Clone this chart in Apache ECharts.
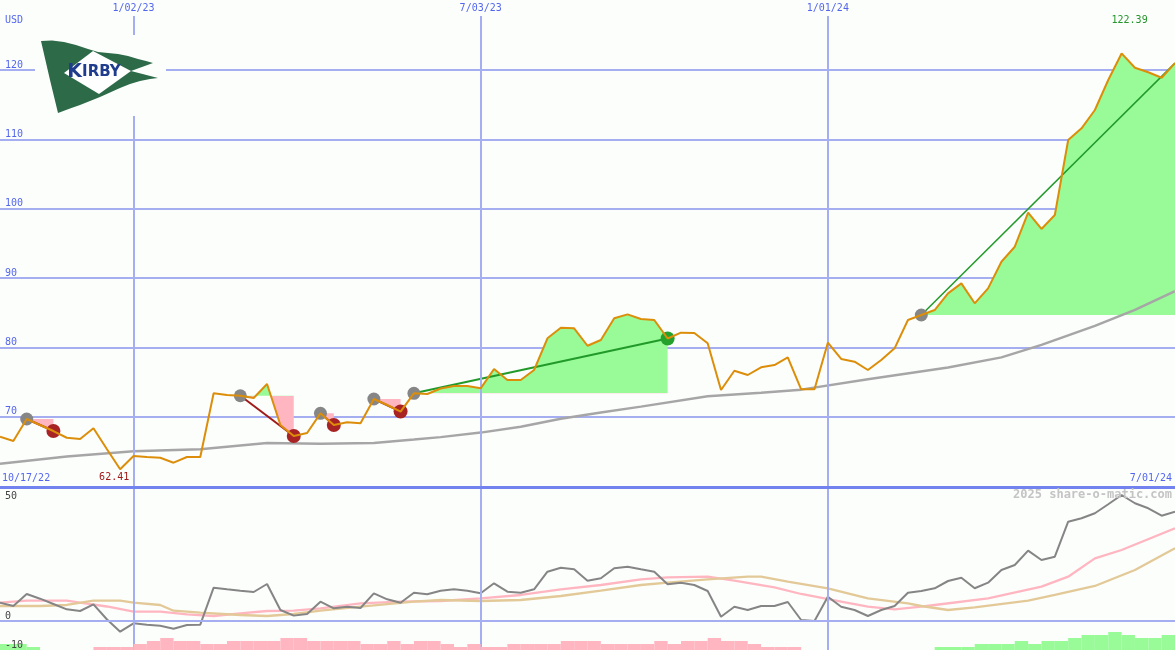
<!DOCTYPE html>
<html><head><meta charset="utf-8">
<script src="https://cdn.jsdelivr.net/npm/echarts@6/dist/echarts.min.js"></script>
<style>html,body{margin:0;padding:0;background:#fcfefc}#c{width:1175px;height:650px}</style>
</head><body><div id="c"></div>
<script>
// ---------- data ----------
const firstWeek = '2022-10-24';      // weekly bars (Mondays)
const weekCount = 89;
const rangeStartLabel = '10/17/22';
const rangeEndLabel = '7/01/24';
const verticalDates = ['2023-01-02', '2023-07-03', '2024-01-01'];
const priceTicks = [70, 80, 90, 100, 110, 120];
const oscTicks = [-10, 0];
const currencyLabel = 'USD';
const oscTopLabel = '50';
const watermark = '2025 share-o-matic.com';

const price = [67.11, 66.49, 69.66, 68.80, 67.93, 66.96, 66.78, 68.32, 65.33, 62.41,
  64.32, 64.18, 64.08, 63.36, 64.18, 64.18, 73.37, 73.12, 73.02, 72.69,
  74.71, 68.80, 67.21, 67.64, 70.48, 68.80, 69.19, 69.05, 72.55, 71.68,
  70.74, 73.37, 73.27, 74.06, 74.42, 74.42, 74.09, 76.87, 75.29, 75.29,
  76.73, 81.30, 82.83, 82.74, 80.23, 81.06, 84.19, 84.76, 84.09, 83.94,
  81.27, 82.11, 82.07, 80.58, 73.84, 76.63, 76.01, 77.12, 77.45, 78.56,
  73.95, 73.95, 80.67, 78.32, 77.93, 76.73, 78.17, 79.86, 83.94, 84.66,
  85.38, 87.79, 89.23, 86.35, 88.51, 92.35, 94.51, 99.42, 97.07, 99.09,
  109.90, 111.59, 114.23, 118.56, 122.39, 120.33, 119.67, 118.89, 121.00];

// moving average (week index, value)
const movingAvg = [[0, 63.2], [5, 64.25], [10, 65.0], [15, 65.3], [20, 66.2], [24, 66.1], [28, 66.2],
  [31, 66.7], [33, 67.05], [36, 67.7], [39, 68.55], [42, 69.7], [45, 70.6], [48, 71.45], [53, 72.95],
  [57, 73.45], [60, 73.9], [65, 75.4], [71, 77.1], [75, 78.55], [78, 80.35], [82, 83.1], [85, 85.4], [88, 88.1]];

// chart patterns: start week, end week, result
const patterns = [
  { from: 2, to: 4, result: 'loss' },
  { from: 18, to: 22, result: 'loss' },
  { from: 24, to: 25, result: 'loss' },
  { from: 28, to: 30, result: 'loss' },
  { from: 31, to: 50, result: 'gain' },
  { from: 69, to: 88, result: 'open' }
];

const oscillator = [6.31, 5.17, 9.31, 7.69, 5.86, 4.03, 3.45, 5.76, 0.59, -3.69,
  -0.79, -1.28, -1.62, -2.66, -1.38, -1.28, 11.48, 10.93, 10.45, 10.0,
  12.76, 3.79, 1.85, 2.41, 6.66, 4.38, 4.93, 4.48, 9.55, 7.48,
  6.31, 9.76, 9.21, 10.45, 10.93, 10.45, 9.55, 13.0, 10.1, 9.76,
  10.93, 17.0, 18.38, 17.83, 13.9, 14.72, 18.17, 18.72, 17.83, 17.0,
  12.66, 13.21, 12.41, 10.34, 1.48, 4.93, 3.79, 5.17, 5.17, 6.55,
  0.34, 0.0, 8.38, 4.93, 3.79, 1.72, 3.79, 5.17, 9.76, 10.34,
  11.28, 13.79, 14.93, 11.28, 13.21, 17.59, 19.31, 24.24, 21.03, 22.17,
  34.24, 35.41, 37.14, 40.24, 43.45, 40.59, 38.86, 36.31, 37.69];

const oscFast = [[0, 6.31], [2, 6.99], [5, 6.99], [6, 6.31], [8, 5.0], [10, 3.21], [12, 3.21], [14, 2.31],
  [16, 1.72], [18, 2.66], [20, 3.45], [22, 3.55], [24, 4.38], [27, 6.1], [30, 6.66], [33, 6.9], [36, 7.83],
  [39, 8.97], [42, 10.93], [45, 12.41], [48, 14.38], [50, 15.07], [53, 15.28], [55, 13.9], [58, 11.62],
  [60, 9.31], [63, 6.66], [65, 4.93], [67, 4.03], [69, 4.93], [70, 5.52], [74, 7.8], [78, 11.83],
  [80, 15.28], [82, 21.6], [84, 24.48], [88, 31.97]];

const oscSlow = [[0, 5.17], [3, 5.17], [5, 5.52], [7, 6.99], [9, 6.99], [10, 6.31], [12, 5.52], [13, 3.55],
  [15, 2.86], [18, 2.07], [20, 1.72], [22, 2.41], [24, 3.55], [27, 4.93], [31, 6.66], [33, 7.24], [36, 6.9],
  [39, 7.24], [42, 8.62], [45, 10.45], [48, 12.41], [50, 13.21], [53, 14.38], [56, 15.28], [57, 15.28],
  [59, 13.55], [62, 11.28], [65, 7.83], [68, 6.1], [69, 5.17], [71, 3.79], [73, 4.72], [77, 6.99],
  [79, 8.97], [82, 12.07], [85, 17.59], [88, 25.07]];

const histogram = [2, 2, 1, 0, 0, 0, 0, -1, -1, -1,
  -2, -3, -4, -3, -3, -2, -2, -3, -3, -3,
  -3, -4, -4, -3, -3, -3, -3, -2, -2, -3,
  -2, -3, -3, -2, -1, -2, -1, -1, -2, -2,
  -2, -2, -3, -3, -3, -2, -2, -2, -2, -3,
  -2, -3, -3, -4, -3, -3, -2, -1, -1, -1,
  0, 0, 0, 0, 0, 0, 0, 0, 0, 0,
  1, 1, 1, 2, 2, 2, 3, 2, 3, 3,
  4, 5, 5, 6, 5, 4, 4, 5];

// ---------- styling ----------
const mono = "'DejaVu Sans Mono', monospace";
const bg = '#fcfefc';
const gridColor = '#a6aef2';
const sepColor = '#7282ee';
const blueText = '#5466ee';
const pink = '#ffb6c1';
const green = '#98fb98';
const orange = '#dc8e0a';

const weeks = [];
{
  const t0 = Date.parse(firstWeek + 'T00:00:00Z');
  for (let i = 0; i < weekCount; i++) {
    weeks.push(new Date(t0 + i * 7 * 86400000).toISOString().slice(0, 10));
  }
}
function fmtDate(s) {
  const [y, m, d] = s.split('-');
  return (+m) + '/' + d + '/' + y.slice(2);
}

const series = [];
const visualMaps = [];

// vertical date grid lines (top panel), under everything
series.push({
  type: 'line', xAxisIndex: 0, yAxisIndex: 0, data: [], z: 1, silent: true,
  markLine: {
    silent: true, symbol: ['none', 'none'], animation: false,
    lineStyle: { color: gridColor, width: 2, type: 'solid' },
    emphasis: { disabled: true },
    label: { show: true, position: 'end', formatter: '{b}', color: blueText, fontSize: 10, fontFamily: mono, distance: 3 },
    data: verticalDates.map(d => ({ xAxis: d, name: fmtDate(d) }))
  }
});

// pattern fills
patterns.forEach(p => {
  const base = price[p.from];
  const data = [];
  for (let i = p.from; i <= p.to; i++) data.push([i, price[i]]);
  visualMaps.push({
    type: 'piecewise', show: false, seriesIndex: series.length, dimension: 1,
    pieces: [{ gte: 0, lt: base, color: pink }, { gte: base, lte: 1000, color: green }]
  });
  series.push({
    type: 'line', xAxisIndex: 0, yAxisIndex: 0, data, showSymbol: false, z: 2, silent: true,
    lineStyle: { width: 0, opacity: 0 },
    areaStyle: { origin: base, opacity: 1 }
  });
});

// moving average (top)
series.push({
  type: 'line', xAxisIndex: 0, yAxisIndex: 0, data: movingAvg, showSymbol: false, z: 3,
  lineStyle: { color: '#a6a6a6', width: 2.5 }, silent: true
});

// trend lines
patterns.forEach(p => {
  series.push({
    type: 'line', xAxisIndex: 0, yAxisIndex: 0, showSymbol: false, z: 3, silent: true,
    data: [[p.from, price[p.from]], [p.to, price[p.to]]],
    lineStyle: { color: p.result === 'loss' ? '#a01a1a' : '#229a2a', width: p.result === 'open' ? 1.5 : 2 }
  });
});

// markers
series.push({
  type: 'scatter', xAxisIndex: 0, yAxisIndex: 0, z: 4, silent: true, symbolSize: 13,
  itemStyle: { color: '#868686', opacity: 1 },
  data: patterns.map(p => [p.from, price[p.from]])
});
series.push({
  type: 'scatter', xAxisIndex: 0, yAxisIndex: 0, z: 4, silent: true, symbolSize: 14,
  itemStyle: { color: '#a82424', opacity: 1 },
  data: patterns.filter(p => p.result === 'loss').map(p => [p.to, price[p.to]])
});
series.push({
  type: 'scatter', xAxisIndex: 0, yAxisIndex: 0, z: 4, silent: true, symbolSize: 14,
  itemStyle: { color: '#24a02c', opacity: 1 },
  data: patterns.filter(p => p.result === 'gain').map(p => [p.to, price[p.to]])
});

// price
series.push({
  type: 'line', xAxisIndex: 0, yAxisIndex: 0, z: 5, silent: true, showSymbol: false,
  data: price.map((v, i) => [i, v]),
  lineStyle: { color: orange, width: 2 },
  markPoint: {
    silent: true, animation: false, symbolSize: 0,
    label: { show: true, fontFamily: mono, fontSize: 10, formatter: p => Number(p.value).toFixed(2) },
    data: [
      { type: 'max', valueDim: 'y', label: { color: '#24962a', offset: [8, -33] } },
      { type: 'min', valueDim: 'y', label: { color: '#a01818', offset: [-6, 8] } }
    ]
  }
});

// lower panel
series.push({
  type: 'line', xAxisIndex: 1, yAxisIndex: 1, z: 2, silent: true, showSymbol: false,
  data: oscFast, lineStyle: { color: pink, width: 2.3 },
  markLine: {
    silent: true, symbol: ['none', 'none'], animation: false, emphasis: { disabled: true },
    lineStyle: { color: gridColor, width: 2, type: 'solid' }, label: { show: false },
    data: [{ yAxis: 0 }].concat(verticalDates.map(d => ({ xAxis: d })))
  }
});
series.push({
  type: 'line', xAxisIndex: 1, yAxisIndex: 1, z: 3, silent: true, showSymbol: false,
  data: oscSlow, lineStyle: { color: '#e2c997', width: 2.3 }
});
series.push({
  type: 'line', xAxisIndex: 1, yAxisIndex: 1, z: 4, silent: true, showSymbol: false,
  data: oscillator.map((v, i) => [i, v]), lineStyle: { color: '#858585', width: 2 }
});
series.push({
  type: 'bar', xAxisIndex: 2, yAxisIndex: 2, z: 5, silent: true, barCategoryGap: '0%',
  data: histogram.map(v => ({ value: Math.abs(v), itemStyle: { color: v > 0 ? green : pink } }))
});

const option = {
  backgroundColor: bg,
  animation: false,
  grid: [
    { left: 0, right: 0, top: 16, height: 470 },
    { left: 0, right: 0, top: 487, height: 163 },
    { left: 0, right: 0, top: 620, height: 30 }
  ],
  xAxis: [
    { type: 'category', gridIndex: 0, data: weeks, boundaryGap: false, show: false },
    { type: 'category', gridIndex: 1, data: weeks, boundaryGap: false, position: 'top', z: 20,
      axisLine: { show: true, onZero: false, lineStyle: { color: sepColor, width: 3 } },
      axisTick: { show: false }, axisLabel: { show: false }, splitLine: { show: false } },
    { type: 'category', gridIndex: 2, data: weeks.slice(0, weekCount - 1), boundaryGap: true, show: false }
  ],
  yAxis: [
    { type: 'value', gridIndex: 0, min: 60, max: 127.79, interval: 10,
      name: currencyLabel, nameLocation: 'end', nameGap: -4,
      nameTextStyle: { align: 'left', verticalAlign: 'middle', padding: [0, 0, 0, 5], color: blueText, fontSize: 10, fontFamily: mono },
      axisLine: { show: false }, axisTick: { show: false },
      splitLine: { show: true, showMinLine: false, showMaxLine: false, lineStyle: { color: gridColor, width: 2 } },
      axisLabel: { inside: true, margin: 5, verticalAlign: 'bottom', color: blueText, fontSize: 10, fontFamily: mono,
        showMinLabel: true, showMaxLabel: true,
        formatter: v => priceTicks.includes(v) ? String(v) : '' } },
    { type: 'value', gridIndex: 1, min: -10, max: 46.2, interval: 10, z: 20,
      name: oscTopLabel, nameLocation: 'end', nameGap: -9,
      nameTextStyle: { align: 'left', verticalAlign: 'middle', padding: [0, 0, 0, 5], color: '#444', fontSize: 10, fontFamily: mono },
      axisLine: { show: false }, axisTick: { show: false }, splitLine: { show: false },
      axisLabel: { inside: true, margin: 5, verticalAlign: 'bottom', color: '#444', fontSize: 10, fontFamily: mono,
        showMinLabel: true, showMaxLabel: true,
        formatter: v => oscTicks.includes(v) ? String(v) : '' } },
    { type: 'value', gridIndex: 2, min: 0, max: 10, show: false }
  ],
  visualMap: visualMaps,
  series,
  graphic: [
    { type: 'text', left: 2, top: 473, z: 50, style: { text: rangeStartLabel, fill: blueText, font: '10px ' + mono } },
    { type: 'text', right: 3, top: 473, z: 50, style: { text: rangeEndLabel, fill: blueText, font: '10px ' + mono } },
    { type: 'text', right: 3, top: 489, z: 50, style: { text: watermark, fill: '#c4c4c4', font: 'bold 12px ' + mono } },
    { type: 'rect', z: 100, shape: { x: 35, y: 35, width: 131, height: 81 }, style: { fill: bg } },
    { type: 'polygon', z: 101, shape: { points: [
        [41, 41], [52, 40.5], [64, 42], [76, 45], [88, 49], [98, 52], [108, 53], [118, 54], [128, 56],
        [138, 59], [146, 61], [153, 63], [131, 71], [158, 78], [150, 79], [140, 81], [130, 84],
        [120, 88], [110, 92.5], [100, 97], [90, 101], [80, 105], [70, 108.5], [62, 111.5], [58, 113], [50, 80]
      ] }, style: { fill: '#2d6a48' } },
    { type: 'polygon', z: 102, shape: { points: [[64, 73], [93, 51], [131, 71], [99, 94]] }, style: { fill: '#ffffff' } },
    { type: 'text', z: 103, x: 94, y: 72.5, style: {
        text: '{a|K}{b|IRBY}', align: 'center', verticalAlign: 'middle',
        rich: { a: { fontSize: 19, fontWeight: 'bold', fontFamily: 'DejaVu Sans', fill: '#203c8c' },
                b: { fontSize: 15, fontWeight: 'bold', fontFamily: 'DejaVu Sans', fill: '#203c8c' } } } }
  ]
};

const chart = echarts.init(document.getElementById('c'), null, { renderer: 'canvas' });
chart.setOption(option);
</script>
</body></html>
